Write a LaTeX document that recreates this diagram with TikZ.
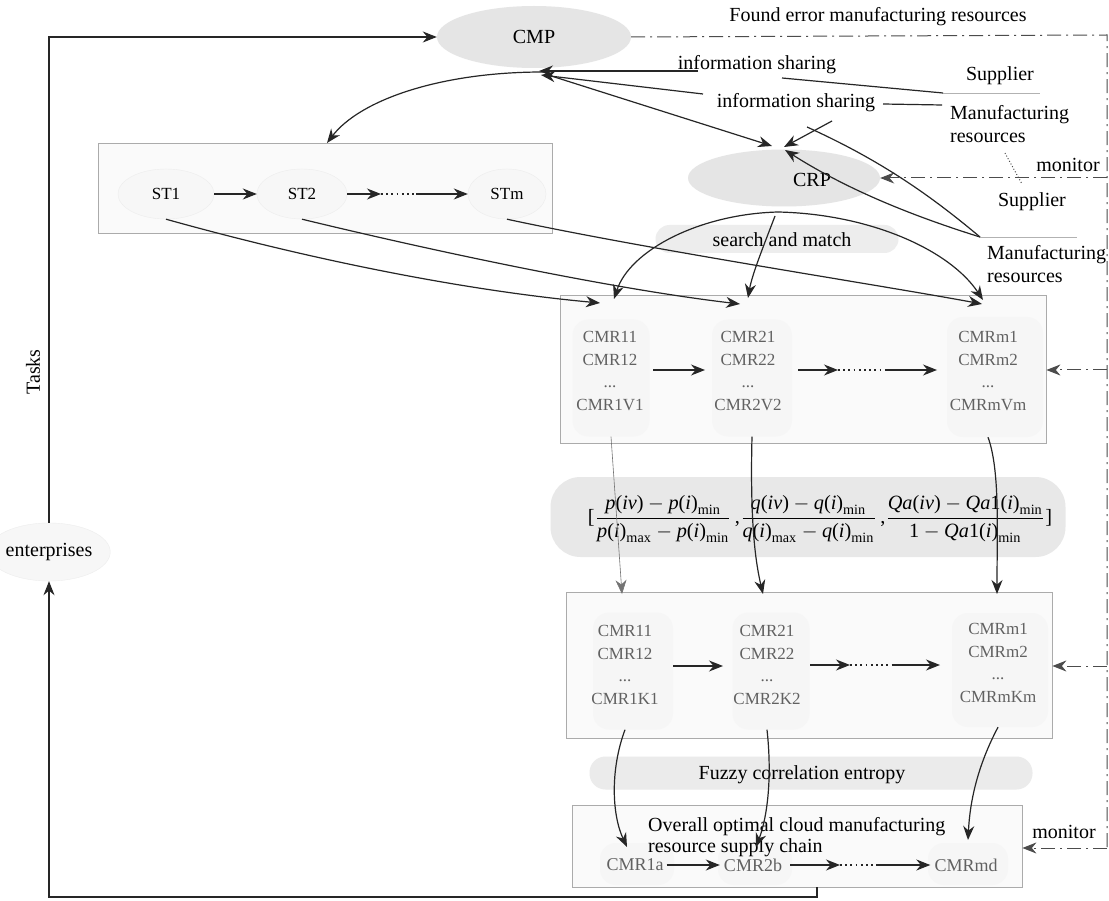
\documentclass[tikz,border=0pt]{standalone}
\usepackage{fontspec}
\setmainfont{Liberation Serif}
\usepackage{amsmath}
\usepackage{graphicx}
\usetikzlibrary{arrows.meta,shapes.geometric}
\newcommand{\myit}[1]{\text{\itshape #1}}
\newcommand{\myrm}[1]{\text{#1}}
\tikzset{
 lbl/.style={font=\fontsize{20}{23}\selectfont, inner sep=0pt},
 cmrt/.style={font=\fontsize{17}{22.5}\selectfont, text=black!62, align=center, inner sep=0pt},
 blob/.style={ellipse, fill=black!10, draw=none, inner sep=0pt},
 faint/.style={ellipse, fill=black!3, draw=black!7, inner sep=0pt},
 boxfr/.style={draw=black!33, fill=black!2, line width=0.8pt, inner sep=0pt},
 colbg/.style={rounded corners=16pt, fill=black!3.5, draw=none, inner sep=0pt},
 band/.style={rounded corners=16pt, fill=black!9, draw=none, inner sep=0pt},
 arr/.style={-{Stealth[length=14pt,width=11pt]}, line width=1.2pt, black!85},
 ln/.style={line width=1.2pt, black!85},
 thinarr/.style={-{Stealth[length=14pt,width=11pt]}, line width=0.6pt, black!55},
 dd/.style={dash pattern=on 14pt off 5pt on 2pt off 5pt, line width=1pt, black!70},
 ddarr/.style={dd, -{Stealth[length=14pt,width=11pt]}},
 dots/.style={dash pattern=on 1.8pt off 3.4pt, line width=1.6pt, black!85},
}
\begin{document}
\begin{tikzpicture}[x=1pt,y=-1pt]
\useasboundingbox (0,0) rectangle (1109,901);
\fill[white] (0,0) rectangle (1109,901);

% ---------- bands and boxes ----------
\node[band, fill=black!7, rounded corners=14pt, minimum width=243pt, minimum height=28pt] (sband) at (777,239) {};
\node[boxfr, minimum width=454pt, minimum height=90pt] (box1) at (325,188) {};
\node[boxfr, minimum width=486pt, minimum height=148pt] (box2) at (803,369) {};
\node[band, rounded corners=30pt, minimum width=515pt, minimum height=80pt] (fband) at (808,517) {};
\node[boxfr, minimum width=486pt, minimum height=146pt] (box3) at (809,665) {};
\node[band, fill=black!8, minimum width=443pt, minimum height=33pt] (zband) at (811,773) {};
\node[boxfr, minimum width=450pt, minimum height=82pt] (box4) at (797,846) {};

% column backgrounds
\node[colbg, minimum width=77pt, minimum height=117pt] (bg11) at (611,378) {};
\node[colbg, minimum width=80pt, minimum height=117pt] (bg12) at (752,378) {};
\node[colbg, minimum width=96pt, minimum height=120pt] (bg13) at (995,377) {};
\node[colbg, minimum width=80pt, minimum height=117pt] (bg21) at (633,671) {};
\node[colbg, minimum width=77pt, minimum height=117pt] (bg22) at (771,671) {};
\node[colbg, minimum width=96pt, minimum height=114pt] (bg23) at (1000,670) {};
\node[colbg, minimum width=74pt, minimum height=42pt] (bg31) at (637,864) {};
\node[colbg, minimum width=74pt, minimum height=42pt] (bg32) at (755,864) {};
\node[colbg, minimum width=80pt, minimum height=42pt] (bg33) at (968,864) {};

% ---------- clouds ----------
\node[blob, minimum width=194pt, minimum height=62pt, font=\fontsize{20}{23}\selectfont] (cmp) at (534,37) {CMP};
\node[blob, minimum width=192pt, minimum height=57pt] (crp) at (784,178) {};
\node[lbl] (crpt) at (812,180) {CRP};
\node[faint, minimum width=97pt, minimum height=58pt, font=\fontsize{20}{23}\selectfont] (ent) at (49,552) {enterprises};
\node[lbl, rotate=90] (tasks) at (33,372) {Tasks};

% ---------- labels ----------
\node[lbl] (found) at (878,17) {Found error manufacturing resources};
\node[lbl] (is1) at (757,65) {information sharing};
\node[lbl] (is2) at (796,103) {information sharing};
\node[lbl] (sup1) at (1000,76) {Supplier};
\node[lbl, align=left, anchor=west] (mr1) at (950,124) {Manufacturing\\resources};
\node[lbl] (mon1) at (1068,165) {monitor};
\node[lbl] (sup2) at (1032,202) {Supplier};
\node[lbl, align=left, anchor=west] (mr2) at (987,264) {Manufacturing\\resources};
\node[lbl] (sm) at (782,240) {search and match};
\node[lbl] (fuzzy) at (802,775) {Fuzzy correlation entropy};
\node[lbl, anchor=base west] (ov1) at (648,831) {Overall optimal cloud manufacturing};
\node[lbl, anchor=base west] (ov2) at (648,852) {resource supply chain};
\node[lbl] (mon2) at (1064,832) {monitor};

% separator lines of supplier groups
\coordinate (s1a) at (943,93); \coordinate (s1b) at (1040,93);
\draw[black!30, line width=0.8pt] (s1a) -- (s1b);
\coordinate (s2a) at (980,237); \coordinate (s2b) at (1077,237);
\draw[black!30, line width=0.8pt] (s2a) -- (s2b);

% ---------- ST row ----------
\node[faint, minimum width=96pt, minimum height=50pt, font=\fontsize{17}{20}\selectfont] (st1) at (166,194) {ST1};
\node[faint, minimum width=90pt, minimum height=50pt, font=\fontsize{17}{20}\selectfont] (st2) at (302,194) {ST2};
\node[faint, minimum width=78pt, minimum height=50pt, font=\fontsize{17}{20}\selectfont] (stm) at (507,194) {STm};
\coordinate (std1) at (381,194); \coordinate (std2) at (416,194);
\draw[arr] (st1.east) -- (st2.west);
\draw[arr] (st2.east) -- (std1);
\draw[dots] (std1) -- (std2);
\draw[arr] (std2) -- (stm.west);

% ---------- CMR box 2 ----------
\node[cmrt] (c11) at (610,371) {CMR11\\CMR12\\...\\CMR1V1};
\node[cmrt] (c12) at (748,371) {CMR21\\CMR22\\...\\CMR2V2};
\node[cmrt] (c13) at (988,371) {CMRm1\\CMRm2\\...\\CMRmVm};
\coordinate (a2a) at (653,370); \coordinate (a2b) at (705,370);
\coordinate (a2c) at (798,370); \coordinate (a2d) at (838,370);
\coordinate (a2e) at (887,370); \coordinate (a2f) at (937,370);
\draw[arr] (a2a) -- (a2b);
\draw[arr] (a2c) -- (a2d);
\draw[dots] (a2d) -- (a2e);
\draw[arr] (a2e) -- (a2f);

% ---------- CMR box 3 ----------
\node[cmrt] (c21) at (625,665) {CMR11\\CMR12\\...\\CMR1K1};
\node[cmrt] (c22) at (767,665) {CMR21\\CMR22\\...\\CMR2K2};
\node[cmrt] (c23) at (998,663) {CMRm1\\CMRm2\\...\\CMRmKm};
\coordinate (a3a) at (673,666); \coordinate (a3b) at (723,666);
\coordinate (a3c) at (810,665); \coordinate (a3d) at (850,665);
\coordinate (a3e) at (893,665); \coordinate (a3f) at (940,665);
\draw[arr] (a3a) -- (a3b);
\draw[arr] (a3c) -- (a3d);
\draw[dots] (a3d) -- (a3e);
\draw[arr] (a3e) -- (a3f);

% ---------- final chain ----------
\node[cmrt, font=\fontsize{18}{20}\selectfont] (f1) at (635,865) {CMR1a};
\node[cmrt, font=\fontsize{18}{20}\selectfont] (f2) at (753,865) {CMR2b};
\node[cmrt, font=\fontsize{18}{20}\selectfont] (f3) at (966,865) {CMRmd};
\coordinate (a4a) at (840,865); \coordinate (a4b) at (877,865);
\draw[arr] ([xshift=3pt]f1.east) -- ([xshift=-4pt]f2.west);
\draw[arr] ([xshift=8pt]f2.east) -- (a4a);
\draw[dots] (a4a) -- (a4b);
\draw[arr] (a4b) -- ([xshift=-4pt]f3.west);

% ---------- formula ----------
\node[inner sep=0pt] (formula) at (820,519) {\resizebox{464pt}{!}{$\displaystyle
 \myrm{[}\frac{\myit{p}\myrm{(}\myit{iv}\myrm{)}-\myit{p}\myrm{(}\myit{i}\myrm{)}_{\myrm{min}}}{\myit{p}\myrm{(}\myit{i}\myrm{)}_{\myrm{max}}-\myit{p}\myrm{(}\myit{i}\myrm{)}_{\myrm{min}}}\,\myrm{,}
 \frac{\myit{q}\myrm{(}\myit{iv}\myrm{)}-\myit{q}\myrm{(}\myit{i}\myrm{)}_{\myrm{min}}}{\myit{q}\myrm{(}\myit{i}\myrm{)}_{\myrm{max}}-\myit{q}\myrm{(}\myit{i}\myrm{)}_{\myrm{min}}}\,\myrm{,}
 \frac{\myit{Qa}\myrm{(}\myit{iv}\myrm{)}-\myit{Qa}\myrm{1(}\myit{i}\myrm{)}_{\myrm{min}}}{\myrm{1}-\myit{Qa}\myrm{1(}\myit{i}\myrm{)}_{\myrm{min}}}\myrm{]}$}};

% ---------- outer loop ----------
\draw[arr] (ent.north) |- (cmp.west);
\coordinate (bl) at (817,897);
\draw[arr] (box4.south -| bl) -- (bl) -| (ent.south);

% ---------- right monitor line ----------
\coordinate (rtop) at (1107,35);
\coordinate (rbot) at (1107,852);
\draw[dd] (cmp.east) -- (rtop) -- (rbot);
\coordinate (rc) at (1107,178);
\coordinate (r2) at (1107,370);
\coordinate (r3) at (1107,666);
\coordinate (r4) at (1107,848);
\draw[ddarr] (rc) -- (crp.east);
\draw[ddarr] (r2) -- (box2.east |- r2);
\draw[ddarr] (r3) -- (box3.east |- r3);
\draw[ddarr] (r4) -- (box4.east |- r4);
\coordinate (m1a) at (1005,153); \coordinate (m1b) at (1022,184);
\draw[dotted, line width=1pt, black!70] (m1a) -- (m1b);

% ---------- information sharing ----------
\coordinate (cmpa) at (539,71);
\coordinate (cmpb) at (541,75);
\coordinate (cmpc) at (545,74);
\coordinate (cmpd) at (543,72);
\coordinate (is1a) at (698,71);
\coordinate (is1b) at (782,78);
\draw[ln] (s1a) -- (is1b);
\draw[arr] (is1a) -- (cmpa);
\coordinate (is2a) at (703,94);
\coordinate (is2b) at (883,104);
\coordinate (mr1a) at (942,105);
\draw[ln] (mr1a) -- (is2b);
\draw[arr] (is2a) -- (cmpb);
\coordinate (crpt1) at (772,146);
\draw[arr] (cmpc) -- (crpt1);
\coordinate (b1t) at (327,143);
\draw[arr] (cmpd) .. controls (440,72) and (360,100) .. (b1t);
\coordinate (p1) at (832,121); \coordinate (crpt2) at (784,147);
\draw[arr] (p1) -- (crpt2);
\coordinate (p2) at (807,127);
\draw[ln] (s2a) .. controls (930,195) and (880,160) .. (p2);
\coordinate (crpt3) at (785,150);
\draw[arr] (s2a) .. controls (900,212) and (840,185) .. (crpt3);

% ---------- search and match ----------
\coordinate (crpb) at (778,212);
\coordinate (crpb2) at (775,216);
\coordinate (t11) at (614,299);
\coordinate (t12) at (748,298);
\coordinate (t13) at (983,300);
\draw[arr] (crpb) .. controls (700,214) and (630,250) .. (t11);
\draw[arr] (crpb2) .. controls (762,250) and (752,275) .. (t12);
\draw[arr] (crpb) .. controls (870,214) and (950,250) .. (t13);

% ---------- ST to CMR ----------
\coordinate (u11) at (600,303);
\coordinate (u12) at (740,304);
\coordinate (u13) at (982,304);
\draw[arr] (st1.south) .. controls (330,265) and (480,292) .. (u11);
\draw[arr] (st2.south) .. controls (450,255) and (620,290) .. (u12);
\draw[arr] (stm.south) .. controls (650,250) and (880,285) .. (u13);

% ---------- box2 to box3 ----------
\coordinate (v1) at (622,594);
\coordinate (v2) at (763,594);
\coordinate (v3) at (997,594);
\draw[thinarr] (bg11.south) -- (v1);
\draw[arr] (bg12.south) .. controls (750,520) and (755,560) .. (v2);
\draw[arr] (bg13.south -| c13) .. controls (1000,470) and (997,530) .. (v3);

% ---------- box3 to final ----------
\coordinate (w1) at (627,847);
\coordinate (w2) at (756,847);
\coordinate (w3) at (968,840);
\draw[arr] (bg21.south -| c21) .. controls (610,770) and (612,815) .. (w1);
\draw[arr] (bg22.south -| c22) .. controls (772,775) and (768,815) .. (w2);
\draw[arr] (bg23.south -| c23) .. controls (978,765) and (970,800) .. (w3);
\end{tikzpicture}
\end{document}
